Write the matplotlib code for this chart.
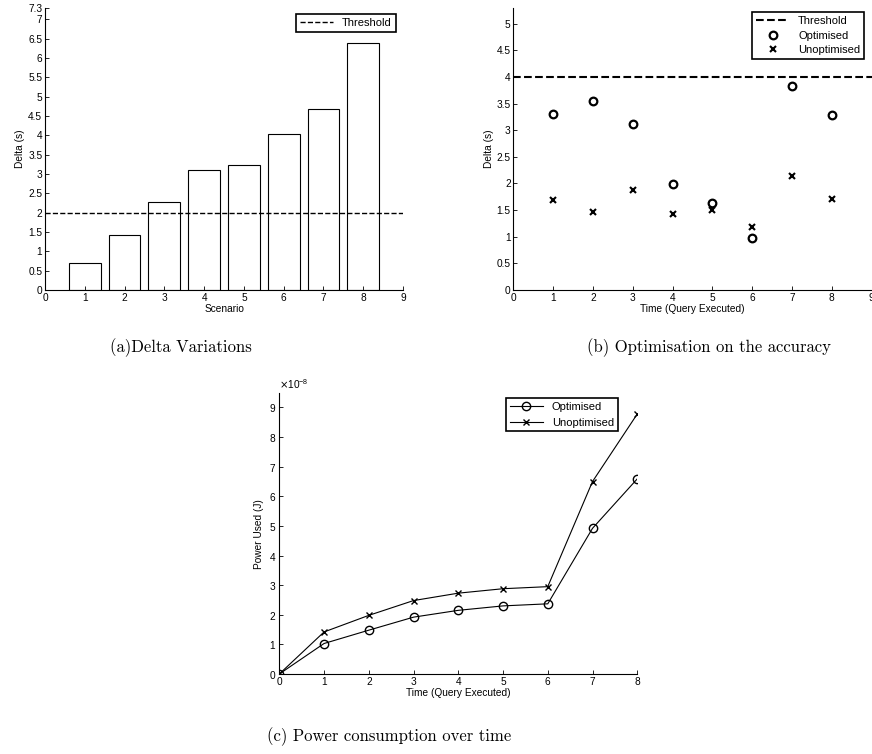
import matplotlib
matplotlib.use('Agg')
import matplotlib.pyplot as plt
from matplotlib import ticker

plt.rcParams['font.family'] = ['Liberation Sans', 'DejaVu Sans']
plt.rcParams['font.size'] = 7.3
plt.rcParams['xtick.direction'] = 'in'
plt.rcParams['ytick.direction'] = 'in'
plt.rcParams['axes.linewidth'] = 0.8

# (a) delta per scenario
scenarios = [1, 2, 3, 4, 5, 6, 7, 8]
deltas = [0.71, 1.41, 2.28, 3.09, 3.22, 4.03, 4.69, 6.39]
threshold_a = 2

# (b) delta per query
queries = [1, 2, 3, 4, 5, 6, 7, 8]
delta_opt = [3.31, 3.55, 3.12, 1.98, 1.63, 0.98, 3.83, 3.28]
delta_unopt = [1.68, 1.46, 1.87, 1.42, 1.50, 1.19, 2.14, 1.71]
threshold_b = 4

# (c) power used (J)
times = [0, 1, 2, 3, 4, 5, 6, 7, 8]
power_opt = [0, 1.03e-8, 1.48e-8, 1.92e-8, 2.15e-8, 2.30e-8, 2.37e-8, 4.92e-8, 6.59e-8]
power_unopt = [0, 1.42e-8, 1.98e-8, 2.48e-8, 2.73e-8, 2.88e-8, 2.95e-8, 6.50e-8, 8.78e-8]

fig = plt.figure(figsize=(8.72, 7.54), dpi=100)


def matlab_box(ax):
    ax.spines['top'].set_visible(False)
    ax.spines['right'].set_visible(False)
    ax.tick_params(length=3, width=0.6, pad=2)


def black_legend(ax, spacing=0.15, **kw):
    leg = ax.legend(fancybox=False, edgecolor='black', framealpha=1, fontsize=8,
                    borderpad=0.35, handlelength=3, labelspacing=spacing,
                    borderaxespad=0, **kw)
    leg.get_frame().set_linewidth(1.2)
    return leg


# ---- (a)
ax1 = fig.add_axes([0.0516, 0.6154, 0.4106, 0.3745])
ax1.bar(scenarios, deltas, width=0.8, color='white', edgecolor='black', linewidth=0.8)
ax1.axhline(threshold_a, color='black', linestyle='--', linewidth=1, label='Threshold')
ax1.set_xlim(0, 9)
ax1.set_ylim(0, 7.3)
ax1.set_xticks(range(0, 10))
ax1.set_yticks([0, 0.5, 1, 1.5, 2, 2.5, 3, 3.5, 4, 4.5, 5, 5.5, 6, 6.5, 7, 7.3])
ax1.yaxis.set_major_formatter(ticker.FormatStrFormatter('%g'))
ax1.set_xlabel('Scenario', labelpad=1)
ax1.set_ylabel('Delta (s)', labelpad=2)
matlab_box(ax1)
black_legend(ax1, loc='upper right', bbox_to_anchor=(0.98, 0.977))

# ---- (b)
ax2 = fig.add_axes([0.5887, 0.6154, 0.4109, 0.3745])
ax2.axhline(threshold_b, color='black', linestyle='--', linewidth=1.5, label='Threshold')
ax2.plot(queries, delta_opt, 'o', color='black', markerfacecolor='none',
         markersize=5.5, markeredgewidth=1.6, label='Optimised')
ax2.plot(queries, delta_unopt, 'x', color='black', markersize=4,
         markeredgewidth=1.5, label='Unoptimised')
ax2.set_xlim(0, 9)
ax2.set_ylim(0, 5.3)
ax2.set_xticks(range(0, 10))
ax2.set_yticks([0, 0.5, 1, 1.5, 2, 2.5, 3, 3.5, 4, 4.5, 5])
ax2.yaxis.set_major_formatter(ticker.FormatStrFormatter('%g'))
ax2.set_xlabel('Time (Query Executed)', labelpad=1)
ax2.set_ylabel('Delta (s)', labelpad=2)
matlab_box(ax2)
black_legend(ax2, spacing=0.4, loc='upper right', bbox_to_anchor=(0.979, 0.983))

# ---- (c)
ax3 = fig.add_axes([0.3203, 0.1061, 0.4105, 0.3723])
ax3.plot(times, power_opt, '-o', color='black', markerfacecolor='none',
         markersize=6, linewidth=0.8, label='Optimised')
ax3.plot(times, power_unopt, '-x', color='black', markersize=4,
         linewidth=0.8, label='Unoptimised')
ax3.set_xlim(0, 8)
ax3.set_ylim(0, 9.48e-8)
ax3.set_xticks(range(0, 9))
ax3.set_yticks([i * 1e-8 for i in range(0, 10)])
fmt = ticker.ScalarFormatter(useMathText=True)
fmt.set_powerlimits((0, 0))
ax3.yaxis.set_major_formatter(fmt)
ax3.yaxis.get_offset_text().set_fontsize(7.3)
ax3.set_xlabel('Time (Query Executed)', labelpad=1)
ax3.set_ylabel('Power Used (J)', labelpad=4)
matlab_box(ax3)
black_legend(ax3, spacing=0.5, loc='upper right', bbox_to_anchor=(0.946, 0.983))

# captions
cap = dict(family='cmr10', fontsize=12, ha='center', va='center')
fig.text(181 / 872, 1 - 348 / 754, '(a)Delta Variations', **cap)
fig.text(709 / 872, 1 - 348 / 754, '(b) Optimisation on the accuracy', **cap)
fig.text(389 / 872, 1 - 737 / 754, '(c) Power consumption over time', **cap)

fig.savefig('out.png', dpi=100)
